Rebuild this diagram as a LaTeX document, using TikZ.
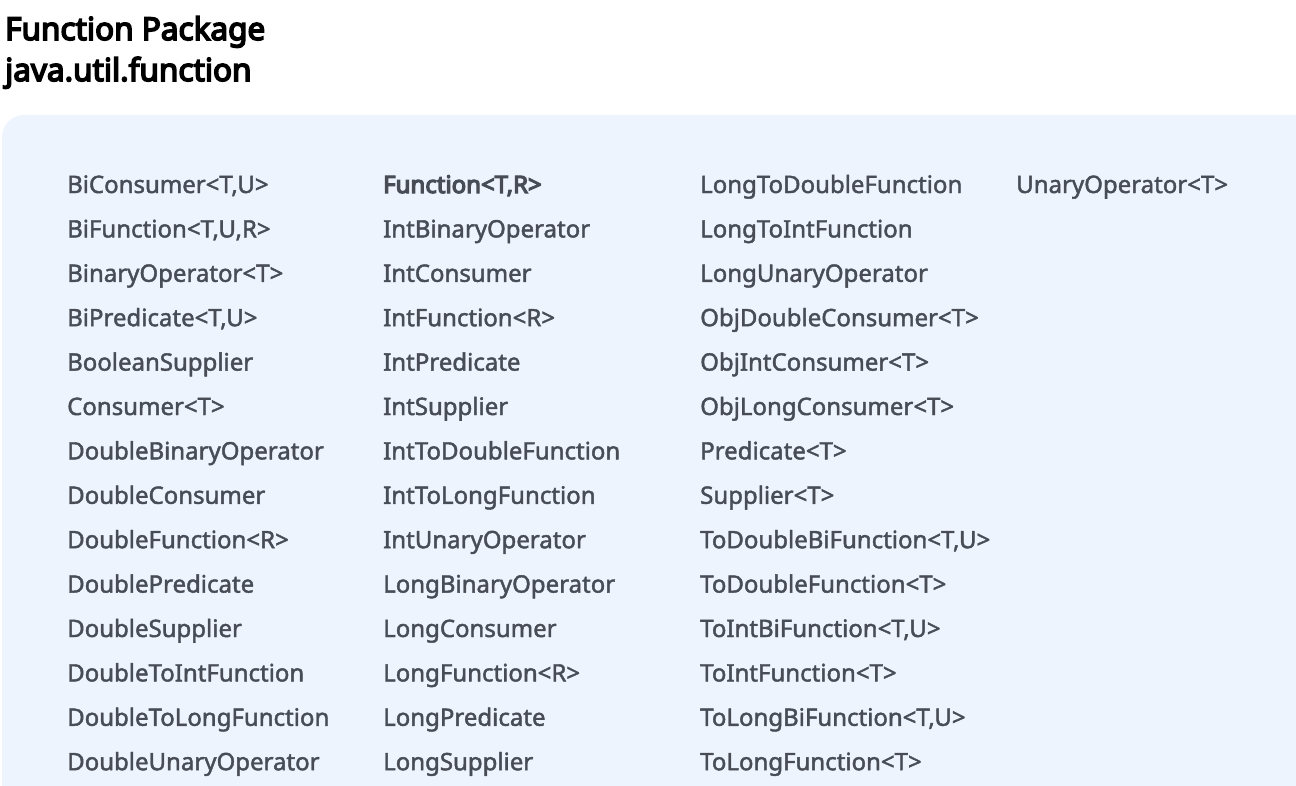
\documentclass[tikz,border=0pt]{standalone}
\usepackage{fontspec}
\setmainfont{Noto Sans}
\newfontfamily\itemfont{Noto Sans}[FakeBold=1.8]
\newfontfamily\heavyfont{Noto Sans}[FakeBold=5]
\usetikzlibrary{positioning}
\definecolor{panelbg}{HTML}{EEF4FD}
\definecolor{itemtext}{HTML}{474C55}

\begin{document}
\begin{tikzpicture}[
    x=1pt, y=-1pt,
    title/.style  = {anchor=base west, inner sep=0pt, font=\heavyfont\fontsize{31.5}{34}\selectfont, text=black},
    item/.style   = {anchor=base west, inner sep=0pt, font=\itemfont\fontsize{24}{28}\selectfont, text=itemtext},
    strong/.style = {item, font=\heavyfont\fontsize{24}{28}\selectfont}]
\useasboundingbox (0,0) rectangle (1296,785);

% panel
\fill[panelbg, rounded corners=22pt] (2,115) rectangle (1340,830);

% heading
\node[title] (head1) at (5,40) {Function Package};
\node[title] (head2) at (5,81) {java.util.function};

% first column
\foreach \name [count=\i] in {{BiConsumer<T,U>}, {BiFunction<T,U,R>}, BinaryOperator<T>,
    {BiPredicate<T,U>}, BooleanSupplier, Consumer<T>, DoubleBinaryOperator,
    DoubleConsumer, DoubleFunction<R>, DoublePredicate, DoubleSupplier,
    DoubleToIntFunction, DoubleToLongFunction, DoubleUnaryOperator}
  \node[item] (a\i) at (67,{193+44.4*(\i-1)}) {\name};

% second column
\node[strong] (b1) at (383,193) {Function<T,R>};
\foreach \name [count=\i from 2] in {IntBinaryOperator, IntConsumer, IntFunction<R>,
    IntPredicate, IntSupplier, IntToDoubleFunction, IntToLongFunction,
    IntUnaryOperator, LongBinaryOperator, LongConsumer, LongFunction<R>,
    LongPredicate, LongSupplier}
  \node[item] (b\i) at (383,{193+44.4*(\i-1)}) {\name};

% third column
\foreach \name [count=\i] in {LongToDoubleFunction, LongToIntFunction, LongUnaryOperator,
    ObjDoubleConsumer<T>, ObjIntConsumer<T>, ObjLongConsumer<T>, Predicate<T>,
    Supplier<T>, {ToDoubleBiFunction<T,U>}, ToDoubleFunction<T>, {ToIntBiFunction<T,U>},
    ToIntFunction<T>, {ToLongBiFunction<T,U>}, ToLongFunction<T>}
  \node[item] (c\i) at (700,{193+44.4*(\i-1)}) {\name};

% fourth column
\node[item] (d1) at (1016,193) {UnaryOperator<T>};
\end{tikzpicture}
\end{document}
